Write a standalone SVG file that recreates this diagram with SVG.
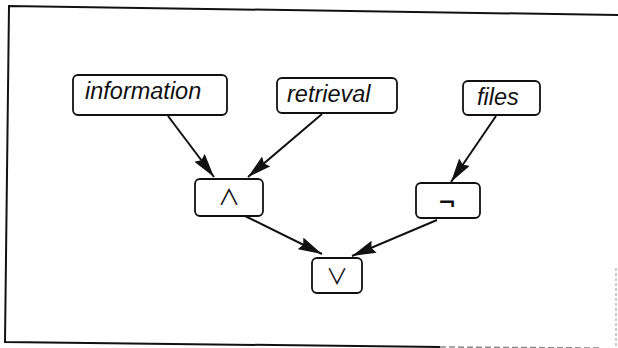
<svg xmlns="http://www.w3.org/2000/svg" width="618" height="348" viewBox="0 0 618 348">
<style>
.box{fill:#fff;stroke:#111;stroke-width:1.8}
.lbl{font-family:"Liberation Sans",Arial,sans-serif;font-style:italic;font-size:23.5px;fill:#111}
.sym{font-family:"Noto Sans CJK JP","DejaVu Sans",sans-serif;font-weight:400;font-size:22px;fill:#111;text-anchor:middle}
.neg{font-family:"DejaVu Sans",sans-serif;font-weight:bold;font-size:22px;fill:#111;text-anchor:middle}
.edge{stroke:#111;stroke-width:2;fill:none;marker-end:url(#ah)}
.frame{stroke:#111;stroke-width:2;fill:none}
</style>
<defs>
<marker id="ah" viewBox="0 0 24 13" refX="24" refY="6.5" markerWidth="24" markerHeight="13" markerUnits="userSpaceOnUse" orient="auto">
<path d="M0,0 L24,6.5 L0,13 L3,6.5 Z" fill="#111"/>
</marker>
</defs>
<g id="frame">
<path class="frame" d="M618,15 L9,6 L5,342 L440,347"/>
<path d="M440,347 L600,348" stroke="#888" stroke-width="1.5" stroke-dasharray="6,3" fill="none"/>
<path d="M616,268 L616,348" stroke="#999" stroke-width="1" stroke-dasharray="3,2" fill="none"/>
</g>
<g id="connectors">
<line class="edge" x1="168" y1="116" x2="214" y2="177"/>
<line class="edge" x1="322" y1="114" x2="248" y2="177"/>
<line class="edge" x1="496" y1="116" x2="451" y2="182"/>
<line class="edge" x1="245" y1="216" x2="322" y2="254"/>
<line class="edge" x1="437" y1="220" x2="352" y2="256"/>
</g>
<g id="information">
<rect class="box" x="73" y="75" width="154" height="40" rx="5"/>
<text class="lbl" x="85" y="99">information</text>
</g>
<g id="retrieval">
<rect class="box" x="277" y="78" width="120" height="35" rx="5"/>
<text class="lbl" x="287" y="102">retrieval</text>
</g>
<g id="files">
<rect class="box" x="463" y="81" width="77" height="34" rx="5"/>
<text class="lbl" x="477" y="105">files</text>
</g>
<g id="and">
<rect class="box" x="195" y="179" width="68" height="37" rx="5"/>
<text class="sym" x="229" y="205">∧</text>
</g>
<g id="not">
<rect class="box" x="416" y="183" width="64" height="35" rx="5"/>
<text class="neg" x="447" y="210">¬</text>
</g>
<g id="or">
<rect class="box" x="312" y="258" width="50" height="35" rx="5"/>
<text class="sym" x="337" y="284">∨</text>
</g>
</svg>
